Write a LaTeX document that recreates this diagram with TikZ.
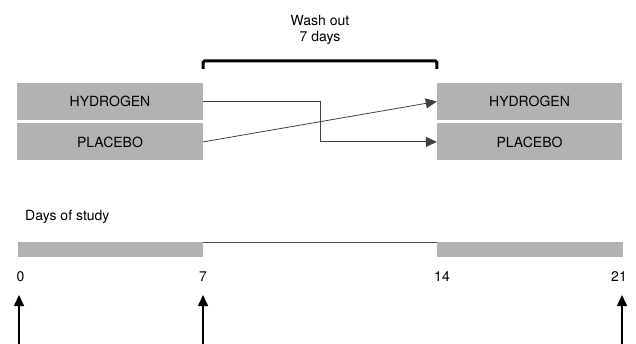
\documentclass[tikz,border=0pt]{standalone}
\usepackage{fontspec}
\setmainfont{TeX Gyre Heros}
\usetikzlibrary{positioning,arrows.meta}

\begin{document}
\begin{tikzpicture}[x=1pt, y=-1pt,
armnode/.style={rectangle, fill=gray!60, draw=none, minimum width=186pt, minimum height=37pt, inner sep=0pt, font=\fontsize{14}{16}\selectfont},
barnode/.style={rectangle, fill=gray!60, draw=none, minimum height=14.5pt, inner sep=0pt},
txtnode/.style={inner sep=0pt, font=\fontsize{14}{16}\selectfont},
link/.style={draw=black!75, line width=0.8pt, -{Triangle[length=11pt, width=10pt]}},
dayarrow/.style={line width=1.5pt, -{Triangle[length=11pt, width=10pt]}},
bracket/.style={line width=3pt, rounded corners=1.5pt},
]
\useasboundingbox (0,0) rectangle (636,344);

%Nodes
\node[armnode]                      (hyd1) at (110,101.5)      {HYDROGEN};
\node[armnode]                      (pla1) [below=3pt of hyd1] {PLACEBO};
\node[armnode, minimum width=185pt] (hyd2) at (529.5,101.5)    {HYDROGEN};
\node[armnode, minimum width=185pt] (pla2) [below=3pt of hyd2] {PLACEBO};

\node[txtnode, anchor=base] (wash) at (320,26) {Wash out};
\node[txtnode, anchor=base] (week) at (320,42) {7 days};

\node[txtnode, anchor=base west] (study) at (25,220.5) {Days of study};

\node[barnode, minimum width=185pt]   (bar1) at (110.5,249.75) {};
\node[barnode, minimum width=185.5pt] (bar2) at (529.75,249.75) {};

\node[txtnode, anchor=base] (d0)  at (20.5,281.5) {0};
\node[txtnode, anchor=base] (d7)  at (203,281.5)  {7};
\node[txtnode, anchor=base] (d14) at (442,281.5)  {14};
\node[txtnode, anchor=base] (d21) at (619,281.5)  {21};

\coordinate (turn) at (320,0);
\foreach \x/\n in {19/0, 203/7, 622/21} {
  \coordinate (foot\n) at (\x,344);
  \coordinate (tip\n)  at (\x,295);
}

%Lines
\draw[bracket] ([yshift=14pt]hyd1.north east) -- ++(0,-8) -| ([yshift=14pt]hyd2.north west);
\draw[link] (hyd1.east) -- (hyd1.east -| turn) |- (pla2.west);
\draw[link] (pla1.east) -- (hyd2.west);
\draw[black!70, line width=0.7pt] (bar1.north east) -- (bar2.north west);
\foreach \n in {0, 7, 21}
  \draw[dayarrow] (foot\n) -- (tip\n);
\end{tikzpicture}
\end{document}
